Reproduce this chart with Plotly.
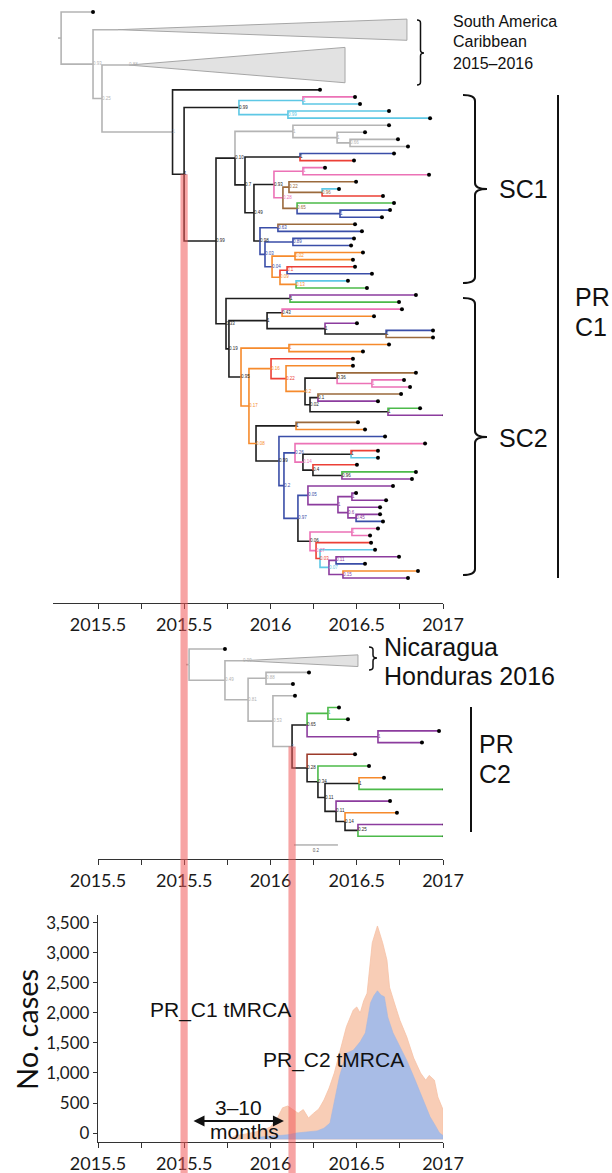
import plotly.graph_objects as go

FIG_W, FIG_H = 612, 1173

COLORS = {
    "gray": "#b4b4b4", "black": "#1e1e1e", "cyan": "#5ec8e5", "pink": "#ec72b6",
    "blue": "#3a4ea8", "red": "#ec4036", "brown": "#9b6a3c", "green": "#4cba4a",
    "orange": "#f68a2c", "purple": "#8c3c9e", "darkred": "#9c3a2a",
}

# ---------------- tree data: (node, parent, date, colour, support) ----------------
TOP_BACKBONE = [
    ("r", None, 2014.786, "gray", ""),
    ("tipA", "r", 2014.971, "gray", ""),
    ("B", "r", 2014.971, "gray", "0.93"),
    ("SA1", "B", 2015.116, "gray", ""),
    ("B2", "B", 2015.023, "gray", "0.25"),
    ("SA2", "B2", 2015.180, "gray", "0.88"),
    ("R0", "B2", 2015.432, "gray", "1"),
    ("t11", "R0", 2016.287, "black", ""),
    ("R1", "R0", 2015.499, "black", "1"),
    ("C", "R1", 2015.817, "black", "0.99"),
    ("C1", "C", 2016.188, "cyan", "1"),
    ("t12", "C1", 2016.490, "pink", ""),
    ("t13", "C1", 2016.519, "cyan", ""),
    ("C2", "C", 2016.101, "cyan", "0.99"),
    ("t14", "C2", 2016.687, "cyan", ""),
    ("t15", "C2", 2016.925, "cyan", ""),
    ("S", "R1", 2015.684, "black", "0.99"),
]

TOP_SC1 = [
    ("S1a", "S", 2015.794, "black", "0.10"),
    ("G1", "S1a", 2016.130, "gray", "1"),
    ("t16", "G1", 2016.687, "gray", ""),
    ("G2", "G1", 2016.386, "gray", "1"),
    ("t17", "G2", 2016.548, "gray", ""),
    ("G3", "G2", 2016.461, "gray", "0.66"),
    ("t18", "G3", 2016.739, "gray", ""),
    ("t19", "G3", 2016.797, "gray", ""),
    ("S1b", "S1a", 2015.852, "black", "0.7"),
    ("BR", "S1b", 2016.171, "black", "1"),
    ("t20", "BR", 2016.716, "blue", ""),
    ("t21", "BR", 2016.484, "red", ""),
    ("S1c", "S1b", 2015.904, "black", "0.49"),
    ("P", "S1c", 2016.020, "black", "0.93"),
    ("PP", "P", 2016.188, "pink", "1"),
    ("t22", "PP", 2016.316, "pink", ""),
    ("t23", "PP", 2016.919, "pink", ""),
    ("Bn", "P", 2016.072, "pink", "0.28"),
    ("Brn", "Bn", 2016.107, "brown", "0.22"),
    ("t24", "Brn", 2016.496, "brown", ""),
    ("CR", "Brn", 2016.299, "brown", "0.96"),
    ("t25", "CR", 2016.397, "cyan", ""),
    ("t26", "CR", 2016.652, "red", ""),
    ("GB", "Bn", 2016.154, "brown", "0.65"),
    ("t27", "GB", 2016.716, "green", ""),
    ("BB", "GB", 2016.403, "blue", "1"),
    ("t28", "BB", 2016.693, "blue", ""),
    ("t29", "BB", 2016.646, "blue", ""),
    ("S1d", "S1c", 2015.939, "black", "0.98"),
    ("N63", "S1d", 2016.043, "blue", "0.63"),
    ("t30", "N63", 2016.490, "brown", ""),
    ("t31", "N63", 2016.530, "blue", ""),
    ("W", "S1d", 2015.968, "blue", "0.03"),
    ("N89", "W", 2016.130, "blue", "0.89"),
    ("t32", "N89", 2016.484, "blue", ""),
    ("t33", "N89", 2016.467, "blue", ""),
    ("Xo", "W", 2016.009, "blue", "0.04"),
    ("O1", "Xo", 2016.142, "orange", "0.02"),
    ("t34", "O1", 2016.536, "orange", ""),
    ("t35", "O1", 2016.478, "orange", ""),
    ("Yo", "Xo", 2016.055, "orange", "0.09"),
    ("RB", "Yo", 2016.096, "red", "0.1"),
    ("t36", "RB", 2016.490, "red", ""),
    ("t37", "RB", 2016.588, "blue", ""),
    ("CG", "Yo", 2016.148, "orange", "0.13"),
    ("t38", "CG", 2016.449, "cyan", ""),
    ("t39", "CG", 2016.559, "green", ""),
]

TOP_SC2 = [
    ("T1", "S", 2015.742, "black", "0.33"),
    ("Na", "T1", 2016.113, "black", "1"),
    ("t40", "Na", 2016.843, "purple", ""),
    ("t41", "Na", 2016.745, "green", ""),
    ("X", "T1", 2015.759, "black", "0.19"),
    ("T3", "X", 2015.980, "black", "1"),
    ("Nb", "T3", 2016.067, "black", "0.43"),
    ("t42", "Nb", 2016.762, "pink", ""),
    ("t43", "Nb", 2016.600, "orange", ""),
    ("Nc", "T3", 2016.316, "black", "1"),
    ("t44", "Nc", 2016.501, "purple", ""),
    ("Nd", "Nc", 2016.670, "black", "1"),
    ("t45", "Nd", 2016.942, "blue", ""),
    ("t46", "Nd", 2016.942, "brown", ""),
    ("Y", "X", 2015.829, "black", "0.95"),
    ("Oa", "Y", 2016.107, "orange", "1"),
    ("t47", "Oa", 2016.687, "orange", ""),
    ("t48", "Oa", 2016.536, "orange", ""),
    ("Z", "Y", 2015.875, "orange", "0.17"),
    ("Z1", "Z", 2016.003, "orange", "0.16"),
    ("t49", "Z1", 2016.478, "red", ""),
    ("Z1b", "Z1", 2016.090, "red", "0.22"),
    ("t50", "Z1b", 2016.478, "orange", ""),
    ("K0", "Z1b", 2016.200, "orange", "0.2"),
    ("K1", "K0", 2016.386, "black", "0.36"),
    ("t51", "K1", 2016.843, "brown", ""),
    ("PK", "K1", 2016.588, "pink", "1"),
    ("t52", "PK", 2016.774, "pink", ""),
    ("t53", "PK", 2016.809, "pink", ""),
    ("K2", "K0", 2016.229, "black", "0.02"),
    ("K3", "K2", 2016.275, "black", "0.1"),
    ("t54", "K3", 2016.757, "brown", ""),
    ("t55", "K3", 2016.623, "purple", ""),
    ("GP2", "K2", 2016.681, "black", "1"),
    ("t56", "GP2", 2016.867, "green", ""),
    ("t57", "GP2", 2017.010, "purple", ""),
    ("Z2", "Z", 2015.916, "orange", "0.08"),
    ("BO", "Z2", 2016.148, "black", "1"),
    ("t58", "BO", 2016.507, "brown", ""),
    ("t59", "BO", 2016.548, "orange", ""),
    ("M", "Z2", 2016.049, "black", "0.99"),
    ("t60", "M", 2016.664, "blue", ""),
    ("M2", "M", 2016.078, "blue", "0.2"),
    ("M3", "M2", 2016.142, "blue", "0.26"),
    ("t61", "M3", 2016.896, "pink", ""),
    ("M5", "M3", 2016.188, "pink", "0.14"),
    ("RC", "M5", 2016.467, "black", "1"),
    ("t62", "RC", 2016.623, "red", ""),
    ("t63", "RC", 2016.623, "cyan", ""),
    ("M6", "M5", 2016.246, "black", "0.4"),
    ("t64", "M6", 2016.501, "red", ""),
    ("GP", "M6", 2016.414, "black", "0.96"),
    ("t65", "GP", 2016.843, "green", ""),
    ("t66", "GP", 2016.820, "purple", ""),
    ("M4", "M2", 2016.159, "blue", "0.97"),
    ("Pa", "M4", 2016.217, "blue", "0.05"),
    ("t67", "Pa", 2016.710, "purple", ""),
    ("Pc", "Pa", 2016.391, "purple", "1"),
    ("Pd", "Pc", 2016.472, "purple", "1"),
    ("t68", "Pd", 2016.496, "purple", ""),
    ("t69", "Pd", 2016.670, "purple", ""),
    ("Pe", "Pc", 2016.449, "purple", "0.6"),
    ("t70", "Pe", 2016.635, "purple", ""),
    ("Pf", "Pe", 2016.496, "purple", "0.45"),
    ("t71", "Pf", 2016.635, "purple", ""),
    ("t72", "Pf", 2016.652, "blue", ""),
    ("Pb", "M4", 2016.229, "black", "0.06"),
    ("PN", "Pb", 2016.472, "pink", "1"),
    ("t73", "PN", 2016.623, "pink", ""),
    ("t74", "PN", 2016.577, "pink", ""),
    ("Q1", "Pb", 2016.264, "pink", "0.27"),
    ("t75", "Q1", 2016.583, "red", ""),
    ("Q2", "Q1", 2016.287, "red", "0.03"),
    ("t76", "Q2", 2016.606, "cyan", ""),
    ("Q3", "Q2", 2016.339, "cyan", "0.07"),
    ("Q4", "Q3", 2016.380, "purple", "0.11"),
    ("t77", "Q4", 2016.745, "purple", ""),
    ("t78", "Q4", 2016.548, "blue", ""),
    ("Q5", "Q3", 2016.420, "purple", "0.15"),
    ("t79", "Q5", 2016.855, "orange", ""),
    ("t80", "Q5", 2016.797, "purple", ""),
]

# collapsed clades: node -> (number of tip slots, date of right edge)
TOP_COLLAPSED = {"SA1": (4, 2016.791), "SA2": (6, 2016.432)}

MID_TREE = [
    ("m0", None, 2015.528, "gray", ""),
    ("mt0", "m0", 2015.736, "gray", ""),
    ("mB", "m0", 2015.736, "gray", "0.49"),
    ("NH", "mB", 2015.841, "gray", "0.99"),
    ("mC", "mB", 2015.870, "gray", "0.81"),
    ("mD", "mC", 2015.974, "gray", "0.88"),
    ("mt2", "mD", 2016.223, "gray", ""),
    ("mt3", "mD", 2016.130, "gray", ""),
    ("mE", "mC", 2016.014, "gray", "0.53"),
    ("mt4", "mE", 2016.142, "gray", ""),
    ("N1", "mE", 2016.125, "gray", "1"),
    ("N2", "N1", 2016.212, "black", "0.65"),
    ("G1m", "N2", 2016.333, "green", "1"),
    ("mt5", "G1m", 2016.397, "green", ""),
    ("mt6", "G1m", 2016.449, "green", ""),
    ("P1m", "N2", 2016.623, "purple", "1"),
    ("mt7", "P1m", 2016.977, "purple", ""),
    ("mt8", "P1m", 2016.878, "purple", ""),
    ("N3", "N1", 2016.212, "black", "0.28"),
    ("mt9", "N3", 2016.490, "darkred", ""),
    ("N4", "N3", 2016.275, "black", "0.34"),
    ("mt10", "N4", 2016.571, "green", ""),
    ("N5", "N4", 2016.316, "black", "0.11"),
    ("N6", "N5", 2016.513, "black", "1"),
    ("mt11", "N6", 2016.658, "orange", ""),
    ("mt12", "N6", 2017.010, "green", ""),
    ("N7", "N5", 2016.380, "black", "0.11"),
    ("mt13", "N7", 2016.693, "purple", ""),
    ("N8", "N7", 2016.432, "black", "0.14"),
    ("mt14", "N8", 2016.733, "orange", ""),
    ("N9", "N8", 2016.507, "black", "0.25"),
    ("mt15", "N9", 2017.010, "purple", ""),
    ("mt16", "N9", 2017.010, "green", ""),
]
MID_COLLAPSED = {"NH": (1, 2016.507)}

PR_C1_NODE = "R1"
PR_C2_NODE = "N1"
TMRCA_HALF_WIDTH = 0.021
SCALE_BAR = (2016.136, 0.255, "0.2")   # start, length, label
ROOT_STUB = 0.018

# ---------------- case counts ----------------
case_dates_total = [2015.76, 2015.80, 2015.85, 2015.90, 2015.95, 2016.00, 2016.04, 2016.07, 2016.10,
                    2016.13, 2016.16, 2016.19, 2016.22, 2016.25, 2016.28, 2016.31, 2016.34, 2016.37,
                    2016.40, 2016.44, 2016.48, 2016.50, 2016.52, 2016.54, 2016.56, 2016.59, 2016.62,
                    2016.65, 2016.675, 2016.69, 2016.72, 2016.75, 2016.79, 2016.83, 2016.87, 2016.90,
                    2016.92, 2016.95, 2016.97, 2016.99, 2017.0]
cases_total = [-100, -40, -20, 10, 40, 100, 250, 420, 450, 390, 330, 390, 250, 330, 400, 550, 750, 1000,
               1350, 1770, 2050, 2100, 2000, 2200, 2330, 3170, 3450, 3170, 2880, 2430, 2150, 1880, 1600,
               1250, 1000, 880, 960, 880, 600, 440, 390]
case_dates_confirmed = [2015.93, 2016.00, 2016.10, 2016.15, 2016.20, 2016.24, 2016.27, 2016.31, 2016.345,
                        2016.36, 2016.38, 2016.40, 2016.44, 2016.48, 2016.52, 2016.55, 2016.58, 2016.60,
                        2016.62, 2016.64, 2016.66, 2016.68, 2016.71, 2016.75, 2016.79, 2016.83, 2016.87,
                        2016.90, 2016.925, 2016.95, 2016.98, 2017.0]
cases_confirmed = [-70, -50, -30, 0, 10, 20, 35, 80, 165, 380, 660, 940, 1330, 1380, 1520, 1670, 2170,
                   2290, 2370, 2300, 2270, 1930, 1670, 1430, 1210, 940, 660, 440, 270, 150, 0, -40]
AREA_BASELINE = -100

X_TICKS = [2015, 2015.25, 2015.5, 2015.75, 2016, 2016.25, 2016.5, 2016.75, 2017]
X_TICKTEXT = ["2015.5", "", "2015.5", "", "2016", "", "2016.5", "", "2017"]
Y_TICKS = [0, 500, 1000, 1500, 2000, 2500, 3000, 3500]

# ---------------- layout geometry ----------------
def PX(x):
    return x / FIG_W

def PY(y):
    return 1 - y / FIG_H

TOP_XDOM = [PX(53), PX(443)]
TOP_XRANGE = [2014.739, 2017]
TOP_YDOM = [PY(603), 1.0]
TOP_YRANGE = [83.53, -1.696]
MID_XDOM = [PX(98), PX(443)]
MID_YDOM = [PY(859), PY(630)]
MID_YRANGE = [17.949, -1.624]
BOT_XDOM = [PX(98), PX(443)]
BOT_YDOM = [PY(1142), PY(915)]
BOT_YRANGE = [-150, 3633]
X_RANGE = [2015, 2017]


def layout_tree(rows, collapsed):
    info, children, root = {}, {}, None
    for name, parent, date, color, sup in rows:
        info[name] = (parent, date, color, sup)
        if parent is None:
            root = name
        else:
            children.setdefault(parent, []).append(name)
    ypos = {}
    counter = [0]

    def visit(n):
        if n in collapsed:
            k = collapsed[n][0]
            ypos[n] = counter[0] + (k - 1) / 2
            counter[0] += k
        elif n not in children:
            ypos[n] = counter[0]
            counter[0] += 1
        else:
            for c in children[n]:
                visit(c)
            ch = children[n]
            ypos[n] = (ypos[ch[0]] + ypos[ch[-1]]) / 2

    visit(root)
    return info, children, ypos, root


def add_tree(fig, rows, collapsed, xa, ya):
    info, children, ypos, root = layout_tree(rows, collapsed)
    segs = {}
    for n, (p, d, c, s) in info.items():
        if p is None:
            continue
        xp = info[p][1]
        xs, ys = segs.setdefault(c, ([], []))
        xs.extend([xp, xp, d, None])
        ys.extend([ypos[p], ypos[n], ypos[n], None])
    rp, rd, rc, rs = info[root]
    xs, ys = segs.setdefault(rc, ([], []))
    xs.extend([rd - ROOT_STUB, rd, None])
    ys.extend([ypos[root], ypos[root], None])
    for n, (k, end) in collapsed.items():
        yc = ypos[n]
        h = max((k - 1) / 2, 0.5)
        d = info[n][1]
        fig.add_trace(go.Scatter(x=[d, end, end, d], y=[yc, yc - h, yc + h, yc], mode="lines",
                                 fill="toself", fillcolor="#e2e2e2",
                                 line=dict(color="#a6a6a6", width=1),
                                 xaxis=xa, yaxis=ya, hoverinfo="skip", showlegend=False))
    for c, (xs, ys) in segs.items():
        fig.add_trace(go.Scatter(x=xs, y=ys, mode="lines",
                                 line=dict(color=COLORS[c], width=1.6),
                                 xaxis=xa, yaxis=ya, hoverinfo="skip", showlegend=False))
    leaves = [n for n in info if n not in children and n not in collapsed]
    fig.add_trace(go.Scatter(x=[info[n][1] for n in leaves], y=[ypos[n] for n in leaves],
                             mode="markers", marker=dict(color="black", size=4),
                             xaxis=xa, yaxis=ya, hoverinfo="skip", showlegend=False))
    groups = {}
    for n, (p, d, c, s) in info.items():
        if s:
            gx, gy, gt = groups.setdefault(c, ([], [], []))
            gx.append(d)
            gy.append(ypos[n])
            gt.append(s)
    for c, (gx, gy, gt) in groups.items():
        fig.add_trace(go.Scatter(x=gx, y=gy, text=gt, mode="text", textposition="middle right",
                                 textfont=dict(family="Liberation Sans", size=4.5, color=COLORS[c]),
                                 xaxis=xa, yaxis=ya, hoverinfo="skip", showlegend=False))
    return info, ypos


def slot_to_paper(s, dom, rng):
    return dom[0] + (rng[0] - s) / (rng[0] - rng[1]) * (dom[1] - dom[0])


fig = go.Figure()

top_info, top_y = add_tree(fig, TOP_BACKBONE + TOP_SC1 + TOP_SC2, TOP_COLLAPSED, "x", "y")
mid_info, mid_y = add_tree(fig, MID_TREE, MID_COLLAPSED, "x2", "y2")

sb_start, sb_len, sb_label = SCALE_BAR
sb_slot = max(mid_y.values()) + 0.75
fig.add_trace(go.Scatter(x=[sb_start, sb_start + sb_len], y=[sb_slot, sb_slot], mode="lines",
                         line=dict(color="#8a8a8a", width=1), xaxis="x2", yaxis="y2",
                         hoverinfo="skip", showlegend=False))
fig.add_trace(go.Scatter(x=[sb_start + sb_len / 2], y=[sb_slot + 0.5], text=[sb_label], mode="text",
                         textfont=dict(family="Liberation Sans", size=4.5, color="#555"),
                         xaxis="x2", yaxis="y2", hoverinfo="skip", showlegend=False))

fig.add_trace(go.Scatter(x=case_dates_total + [case_dates_total[-1], case_dates_total[0]],
                         y=cases_total + [AREA_BASELINE, AREA_BASELINE],
                         mode="lines", fill="toself", fillcolor="#f8cdb6",
                         line=dict(color="#f6c2a6", width=0.8),
                         xaxis="x3", yaxis="y3", hoverinfo="skip", showlegend=False))
fig.add_trace(go.Scatter(x=case_dates_confirmed + [case_dates_confirmed[-1], case_dates_confirmed[0]],
                         y=cases_confirmed + [AREA_BASELINE, AREA_BASELINE],
                         mode="lines", fill="toself", fillcolor="#a8bce6",
                         line=dict(color="#a2b7e3", width=0.6),
                         xaxis="x3", yaxis="y3", hoverinfo="skip", showlegend=False))

tick_font = dict(family="Lato", size=18, color="#1a1a1a")


def xstyle(domain, rng, anchor):
    return dict(domain=domain, range=rng, anchor=anchor, showgrid=False, zeroline=False,
                showline=True, linecolor="#333", linewidth=1.3, ticks="outside", ticklen=5,
                tickwidth=1.3, tickcolor="#333", tickvals=X_TICKS, ticktext=X_TICKTEXT,
                tickfont=tick_font, fixedrange=True, automargin=False)


def hidden_y(domain, rng, anchor):
    return dict(domain=domain, range=rng, anchor=anchor, visible=False, showgrid=False,
                zeroline=False, fixedrange=True, automargin=False)


shapes = []
c1_date = top_info[PR_C1_NODE][1]
c1_top = slot_to_paper(top_y[PR_C1_NODE], TOP_YDOM, TOP_YRANGE)
c2_date = mid_info[PR_C2_NODE][1]
c2_top = slot_to_paper(mid_y[PR_C2_NODE], MID_YDOM, MID_YRANGE)
for d, top in [(c1_date, c1_top), (c2_date, c2_top)]:
    shapes.append(dict(type="rect", xref="x", yref="paper", x0=d - TMRCA_HALF_WIDTH,
                       x1=d + TMRCA_HALF_WIDTH, y0=0, y1=top, fillcolor="rgba(240,90,90,0.55)",
                       line=dict(width=0), layer="above"))


def brace(x0, x1, y0, y1, ym, r, w):
    xm = (x0 + x1) / 2
    path = (f"M {PX(x0)},{PY(y0)} Q {PX(xm)},{PY(y0)} {PX(xm)},{PY(y0 + r)} "
            f"L {PX(xm)},{PY(ym - r)} Q {PX(xm)},{PY(ym)} {PX(x1)},{PY(ym)} "
            f"Q {PX(xm)},{PY(ym)} {PX(xm)},{PY(ym + r)} L {PX(xm)},{PY(y1 - r)} "
            f"Q {PX(xm)},{PY(y1)} {PX(x0)},{PY(y1)}")
    return dict(type="path", xref="paper", yref="paper", path=path,
                line=dict(color="#111", width=w))


shapes.append(brace(417, 424, 20, 85, 53, 3, 1.5))
shapes.append(brace(463, 487, 95, 283, 189, 6, 2))
shapes.append(brace(463, 487, 298, 575, 437, 6, 2))
shapes.append(brace(369, 377, 647, 670, 658, 3, 1.5))
shapes.append(dict(type="line", xref="paper", yref="paper", x0=PX(558), x1=PX(558),
                   y0=PY(95), y1=PY(578), line=dict(color="#111", width=2)))
shapes.append(dict(type="line", xref="paper", yref="paper", x0=PX(471), x1=PX(471),
                   y0=PY(707), y1=PY(832), line=dict(color="#111", width=2)))

label_font = "Liberation Sans"
annotations = []


def ptext(text, x, y, size, xanchor="left", family=label_font):
    annotations.append(dict(text=text, x=PX(x), y=PY(y), xref="paper", yref="paper",
                            xanchor=xanchor, yanchor="middle", showarrow=False,
                            font=dict(family=family, size=size, color="#111")))


ptext("South America", 451, 22, 16)
ptext("Caribbean", 451, 42, 16)
ptext("2015–2016", 451, 63, 16)
ptext("SC1", 497, 189, 25)
ptext("SC2", 497, 438, 25)
ptext("PR", 573, 297, 25)
ptext("C1", 573, 327, 25)
ptext("Nicaragua", 382, 647, 25)
ptext("Honduras 2016", 382, 676, 25)
ptext("PR", 477, 744, 25)
ptext("C2", 477, 774, 25)

annotations.append(dict(text="No. cases", x=PX(26), y=PY(1030), xref="paper", yref="paper",
                        textangle=-90, showarrow=False, xanchor="center", yanchor="middle",
                        font=dict(family="Lato", size=29, color="#111")))


def dtext(text, x, y, size):
    annotations.append(dict(text=text, x=x, y=y, xref="x3", yref="y3", showarrow=False,
                            xanchor="center", yanchor="middle",
                            font=dict(family=label_font, size=size, color="#111")))


dtext("PR_C1 tMRCA", 2015.71, 2050, 21)
dtext("PR_C2 tMRCA", 2016.365, 1217, 21)
dtext("3–10", 2015.817, 420, 21)
dtext("months", 2015.852, 20, 21)

ARROW_START, ARROW_END, ARROW_LEVEL = 2015.545, 2016.078, 200
annotations.append(dict(x=ARROW_END, y=ARROW_LEVEL, ax=ARROW_START, ay=ARROW_LEVEL,
                        xref="x3", yref="y3", axref="x3", ayref="y3", text="",
                        showarrow=True, arrowhead=2, arrowside="end+start", arrowsize=1.1,
                        arrowwidth=2, arrowcolor="#111"))

fig.update_layout(
    width=FIG_W, height=FIG_H, autosize=False,
    margin=dict(l=0, r=0, t=0, b=0, pad=0, autoexpand=False),
    paper_bgcolor="white", plot_bgcolor="rgba(0,0,0,0)",
    showlegend=False,
    xaxis=xstyle(TOP_XDOM, TOP_XRANGE, "y"),
    yaxis=hidden_y(TOP_YDOM, TOP_YRANGE, "x"),
    xaxis2=xstyle(MID_XDOM, X_RANGE, "y2"),
    yaxis2=hidden_y(MID_YDOM, MID_YRANGE, "x2"),
    xaxis3=xstyle(BOT_XDOM, X_RANGE, "y3"),
    yaxis3=dict(domain=BOT_YDOM, range=BOT_YRANGE, anchor="x3", showgrid=False, zeroline=False,
                showline=True, linecolor="#333", linewidth=1.3, ticks="outside", ticklen=4,
                tickwidth=1.3, tickcolor="#333", tickvals=Y_TICKS,
                ticktext=[f"{v:,}" for v in Y_TICKS], automargin=False,
                tickfont=dict(family="Lato", size=17, color="#1a1a1a"), fixedrange=True),
    shapes=shapes,
    annotations=annotations,
)

fig.write_html("out.html", config={"displayModeBar": False},
               post_script="document.body.style.margin='0px';")
